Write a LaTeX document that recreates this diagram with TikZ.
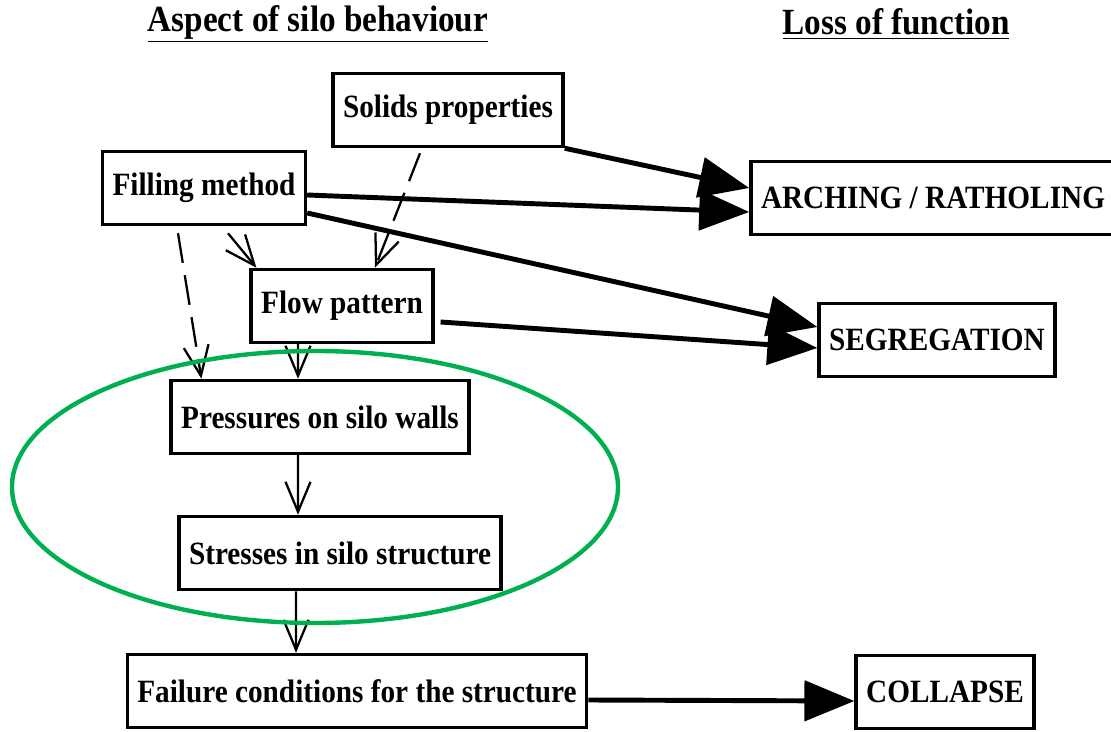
\documentclass[tikz,border=0pt]{standalone}
\usepackage{fontspec}
\setmainfont{Liberation Serif}[FakeStretch=0.9]
\usetikzlibrary{arrows.meta}
\definecolor{ringgreen}{RGB}{0,176,80}

\begin{document}
\begin{tikzpicture}[x=0.02cm,y=-0.02cm,
	box/.style={draw,line width=2pt,inner xsep=0.2cm,minimum height=1.46cm,font=\fontsize{18.5}{21}\selectfont\bfseries},
	head/.style={font=\fontsize{21}{24}\selectfont\bfseries},
	heavy/.style={line width=2.8pt,-{Triangle[length=1cm,width=0.8cm]}},
	light/.style={line width=1.3pt,-{Straight Barb[length=0.6cm,width=0.5cm]}},
	gap/.style={light,dash pattern=on 0.6cm off 0.25cm}]

\useasboundingbox (0,0) rectangle (1111,732);

\node[head]	(aspect)	at (318,24)	{\underline{Aspect of silo behaviour}};
\node[head]	(loss)		at (896,24)	{\underline{Loss of function}};

\node[box]	(solids)	at (448,110)	{Solids properties};
\node[box]	(filling)	at (204,188)	{Filling method};
\node[box]	(flow)		at (342,306)	{Flow pattern};
\node[box]	(pressures)	at (320,417)	{Pressures on silo walls};
\node[box]	(stresses)	at (340,553)	{Stresses in silo structure};
\node[box]	(failure)	at (357,691)	{Failure conditions for the structure};

\node[box,minimum width=7.24cm]	(arch)	at (933,198)	{ARCHING / RATHOLING};
\node[box]	(seg)		at (937,340)	{SEGREGATION};
\node[box]	(collapse)	at (945,692)	{COLLAPSE};

\path	(solids.south east)	edge[heavy]	([yshift=0.2cm]arch.west)
		([yshift=-0.14cm]filling.east)	edge[heavy]	([yshift=-0.28cm]arch.west)
		([yshift=-0.5cm]filling.east)	edge[heavy]	([yshift=0.26cm]seg.west)
		([xshift=0.12cm,yshift=-0.32cm]flow.east)	edge[heavy]	([yshift=-0.16cm]seg.west)
		([yshift=-0.18cm]failure.east)	edge[heavy]	([yshift=-0.18cm]collapse.west);

\path	([xshift=-0.56cm,yshift=-0.1cm]solids.south)	edge[gap]	([xshift=0.66cm]flow.north)
		([xshift=-0.52cm,yshift=-0.14cm]filling.south)	edge[gap]	([xshift=0.64cm]pressures.north west)
		([xshift=0.48cm,yshift=-0.14cm]filling.south)	edge[light]	([xshift=0.14cm]flow.north west)
		([xshift=-0.88cm]flow.south)	edge[light]	([xshift=-0.44cm]pressures.north)
		([xshift=-0.44cm]pressures.south)	edge[light]	([xshift=-0.84cm]stresses.north)
		([xshift=-0.88cm]stresses.south)	edge[light]	([xshift=-1.22cm]failure.north);

\draw[ringgreen,line width=2.5pt] (315,487) ellipse [x radius=303, y radius=136];
\end{tikzpicture}
\end{document}
